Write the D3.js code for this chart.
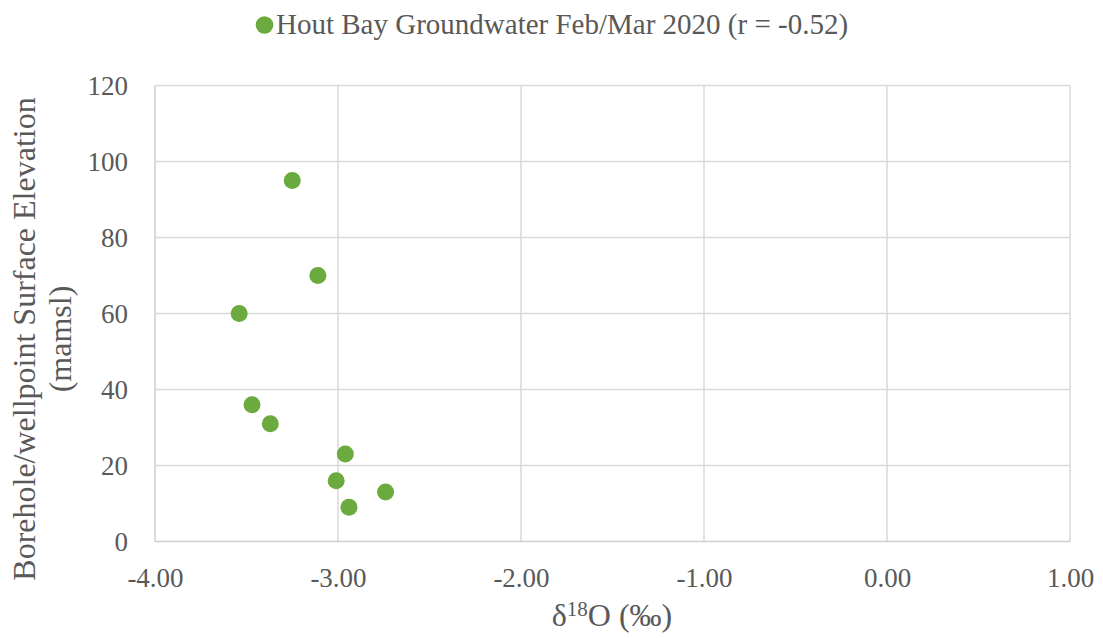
<!DOCTYPE html>
<html>
<head>
<meta charset="utf-8">
<script src="https://cdn.jsdelivr.net/npm/d3@7"></script>
<style>
  html, body { margin: 0; padding: 0; background: #ffffff; }
  svg { display: block; }
  text { font-family: "Liberation Serif", "Times New Roman", serif; fill: #595959; }
</style>
</head>
<body>
<svg id="chart" width="1103" height="639"></svg>
<script>
// δ18O (‰) of Hout Bay groundwater samples, Feb/Mar 2020
const delta18O = [-3.25, -3.11, -3.54, -3.47, -3.37, -2.96, -3.01, -2.74, -2.94];
// Borehole / wellpoint surface elevation (metres above mean sea level)
const elevation = [95, 70, 60, 36, 31, 23, 16, 13, 9];

const xTicks = [-4, -3, -2, -1, 0, 1];
const yTicks = [0, 20, 40, 60, 80, 100, 120];

const seriesName = "Hout Bay Groundwater Feb/Mar 2020 (r = -0.52)";
const xTitle = "O (‰)";
const yTitleLines = ["Borehole/wellpoint Surface Elevation", "(mamsl)"];

const green = "#6aaa3e";
const plot = { left: 155, right: 1070, top: 85.5, bottom: 541.5 };

const svg = d3.select("#chart");

const x = d3.scaleLinear().domain([-4, 1]).range([plot.left, plot.right]);
const y = d3.scaleLinear().domain([0, 120]).range([plot.bottom, plot.top]);

// gridlines
svg.append("g")
  .selectAll("line")
  .data(xTicks.filter(d => d !== -4))
  .join("line")
  .attr("x1", d => x(d)).attr("x2", d => x(d))
  .attr("y1", plot.top).attr("y2", plot.bottom)
  .attr("stroke", "#d9d9d9").attr("stroke-width", 1.5);

svg.append("g")
  .selectAll("line")
  .data(yTicks.filter(d => d !== 0))
  .join("line")
  .attr("x1", plot.left).attr("x2", plot.right)
  .attr("y1", d => y(d)).attr("y2", d => y(d))
  .attr("stroke", "#d9d9d9").attr("stroke-width", 1.5);

// axis lines
svg.append("line")
  .attr("x1", plot.left).attr("x2", plot.left)
  .attr("y1", plot.top).attr("y2", plot.bottom)
  .attr("stroke", "#cfcfcf").attr("stroke-width", 1.5);
svg.append("line")
  .attr("x1", plot.left).attr("x2", plot.right)
  .attr("y1", plot.bottom).attr("y2", plot.bottom)
  .attr("stroke", "#cfcfcf").attr("stroke-width", 1.5);

// tick labels via d3 axes (plain hyphen for negatives)
const fmtX = d => d3.format(".2f")(d).replace("\u2212", "-");
const xAxis = d3.axisBottom(x).tickValues(xTicks).tickFormat(fmtX).tickSize(0).tickPadding(0);
const gx = svg.append("g").attr("transform", `translate(0,${plot.bottom})`).call(xAxis);
gx.select(".domain").remove();
gx.selectAll("text")
  .attr("y", 45).attr("dy", null)
  .style("font-size", "27px").style("font-family", "Liberation Serif").attr("fill", "#595959");

const yAxis = d3.axisLeft(y).tickValues(yTicks).tickFormat(d3.format("d")).tickSize(0).tickPadding(0);
const gy = svg.append("g").attr("transform", `translate(${128},0)`).call(yAxis);
gy.select(".domain").remove();
gy.selectAll("text")
  .attr("x", 0).attr("dy", "0.34em")
  .style("font-size", "27px").style("font-family", "Liberation Serif").attr("fill", "#595959");

// points
svg.append("g")
  .selectAll("circle")
  .data(delta18O.map((d, i) => ({ x: d, y: elevation[i] })))
  .join("circle")
  .attr("cx", d => x(d.x))
  .attr("cy", d => y(d.y))
  .attr("r", 8.5)
  .attr("fill", green);

// legend
svg.append("circle").attr("cx", 264.5).attr("cy", 25).attr("r", 8.8).attr("fill", green);
svg.append("text")
  .attr("x", 276).attr("y", 33.5)
  .style("font-size", "29px")
  .text(seriesName);

// x axis title with superscript
const xt = svg.append("text")
  .attr("x", 612).attr("y", 626)
  .attr("text-anchor", "middle")
  .style("font-size", "32px");
xt.append("tspan").text("δ");
xt.append("tspan").attr("dy", -10).style("font-size", "21px").text("18");
xt.append("tspan").attr("dy", 10).text(xTitle);

// y axis title, two lines
const yt = svg.append("text")
  .attr("transform", `translate(35,${339}) rotate(-90)`)
  .attr("text-anchor", "middle")
  .style("font-size", "32px");
yt.append("tspan").attr("x", 0).attr("y", 0).text(yTitleLines[0]);
yt.append("tspan").attr("x", 0).attr("y", 36).text(yTitleLines[1]);
</script>
</body>
</html>
